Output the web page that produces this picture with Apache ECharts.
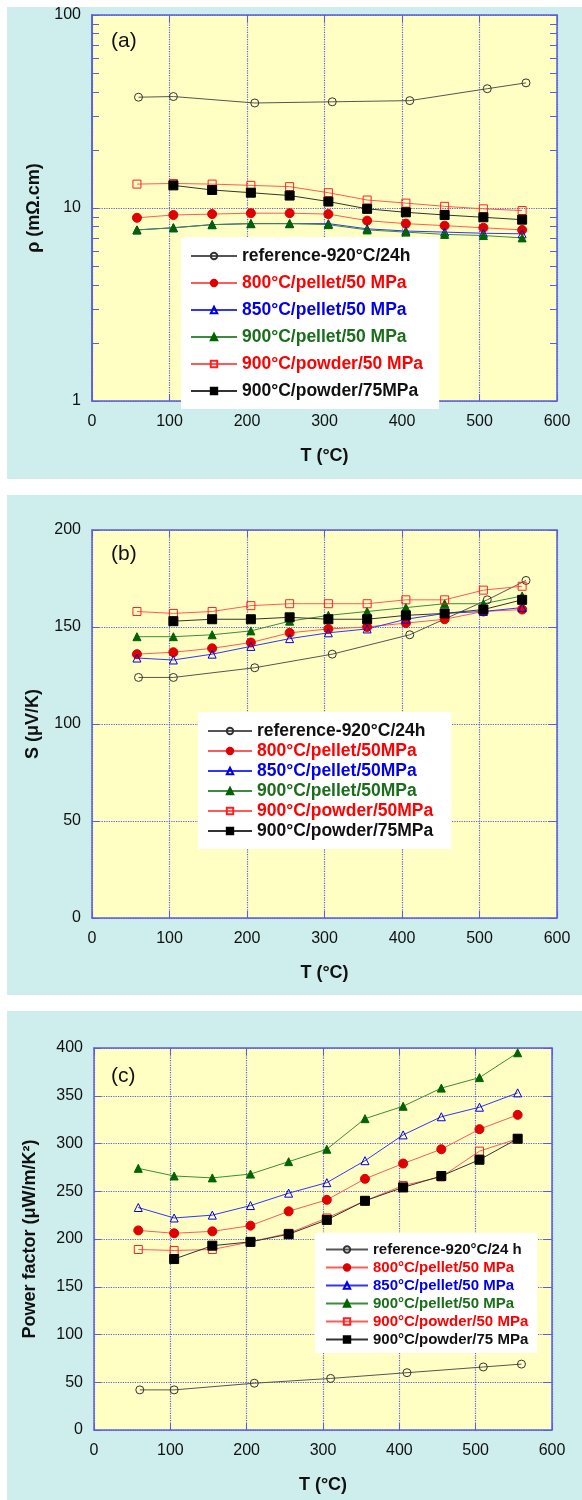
<!DOCTYPE html>
<html>
<head>
<meta charset="utf-8">
<script src="https://cdn.jsdelivr.net/npm/echarts@6/dist/echarts.min.js"></script>
<style>
  html, body { margin: 0; padding: 0; background: #ffffff; }
  #chart { width: 582px; height: 1500px; }
</style>
</head>
<body>
<div id="chart"></div>
<script>
// temperatures (°C)
const tRef = [60, 105, 210, 310, 410, 510, 560];
const tAll = [58, 105, 155, 205, 255, 305, 355, 405, 455, 505, 555];
const t75 = [105, 155, 205, 255, 305, 355, 405, 455, 505, 555];

// (a) resistivity, mOhm.cm
const rhoRef = [37.5, 37.8, 35.0, 35.5, 36.0, 41.5, 44.5];
const rho800 = [8.9, 9.2, 9.3, 9.4, 9.4, 9.3, 8.6, 8.3, 8.1, 7.9, 7.7];
const rho850 = [7.7, 7.9, 8.2, 8.3, 8.3, 8.3, 7.8, 7.6, 7.5, 7.4, 7.35];
const rho900 = [7.7, 7.9, 8.2, 8.3, 8.3, 8.2, 7.7, 7.5, 7.3, 7.2, 7.0];
const rhoPow50 = [13.3, 13.4, 13.3, 13.1, 12.9, 12.0, 11.0, 10.6, 10.2, 9.9, 9.7];
const rhoPow75 = [13.1, 12.4, 12.0, 11.6, 10.8, 9.9, 9.5, 9.2, 8.95, 8.7];

// (b) Seebeck, uV/K
const sRef = [124, 124, 129, 136, 146, 164, 174];
const s800 = [136, 137, 139, 142, 147, 149, 150, 152, 154, 158, 159];
const s850 = [134, 133, 136, 140, 144, 147, 149, 154, 157, 158, 160];
const s900 = [145, 145, 146, 148, 153, 156, 158, 160, 162, 162, 166];
const sPow50 = [158, 157, 158, 161, 162, 162, 162, 164, 164, 169, 171];
const sPow75 = [153, 154, 154, 155, 154, 154, 156, 157, 159, 164];

// (c) power factor, uW/m/K2
const pfRef = [42, 42, 49, 54, 60, 66, 69];
const pf800 = [209, 206, 208, 214, 229, 241, 263, 279, 294, 315, 330];
const pf850 = [233, 222, 225, 235, 248, 259, 282, 309, 328, 338, 353];
const pf900 = [274, 266, 264, 268, 281, 294, 326, 339, 358, 369, 395];
const pfPow50 = [189, 188, 189, 197, 206, 222, 240, 256, 265, 292, 305];
const pfPow75 = [179, 193, 197, 205, 220, 240, 254, 266, 283, 305];

// legend names (they differ a little between panels)
const namesA = ['reference-920°C/24h', '800°C/pellet/50 MPa', '850°C/pellet/50 MPa',
  '900°C/pellet/50 MPa', '900°C/powder/50 MPa', '900°C/powder/75MPa'];
const namesB = ['reference-920°C/24h', '800°C/pellet/50MPa', '850°C/pellet/50MPa',
  '900°C/pellet/50MPa', '900°C/powder/50MPa', '900°C/powder/75MPa'];
const namesC = ['reference-920°C/24 h', '800°C/pellet/50 MPa', '850°C/pellet/50 MPa',
  '900°C/pellet/50 MPa', '900°C/powder/50 MPa', '900°C/powder/75 MPa'];

const logTicks = [1, 2, 3, 4, 5, 6, 7, 8, 9, 10, 20, 30, 40, 50, 60, 70, 80, 90, 100];

const FONT = '"Liberation Sans", Arial, sans-serif';
const CYAN = '#cdeeec';
const YELLOW = '#ffffc4';
const FRAME = '#5c5ce0';

// marker / line look per series (same order as the names)
const looks = [
  { symbol: 'circle', size: 8, fill: 'rgba(0,0,0,0)', border: '#333333', line: '#555555', text: '#111111' },
  { symbol: 'circle', size: 9, fill: '#e00000', border: '#e00000', line: '#ff5a5a', text: '#ff0000' },
  { symbol: 'triangle', size: 8, fill: 'rgba(0,0,0,0)', border: '#0000dd', line: '#3434ff', text: '#0000ee' },
  { symbol: 'triangle', size: 8, fill: '#006400', border: '#006400', line: '#3c8c3c', text: '#1a6e1a' },
  { symbol: 'rect', size: 8, fill: 'rgba(0,0,0,0)', border: '#ff2020', line: '#ff5a5a', text: '#ff0000' },
  { symbol: 'rect', size: 9, fill: '#000000', border: '#000000', line: '#333333', text: '#111111' }
];

function pairs(xs, ys) {
  return ys.map((v, i) => [xs[i], v]);
}

function makeSeries(names, xsList, ysList, xIndex, yIndex) {
  return names.map((name, i) => ({
    name: name,
    type: 'line',
    xAxisIndex: xIndex,
    yAxisIndex: yIndex,
    symbol: looks[i].symbol,
    symbolSize: looks[i].size,
    showAllSymbol: true,
    animation: false,
    lineStyle: { color: looks[i].line, width: 1 },
    itemStyle: { color: looks[i].fill, borderColor: looks[i].border, borderWidth: 1 },
    emphasis: { disabled: true },
    data: pairs(xsList[i], ysList[i])
  }));
}

function xMain(grid) {
  return {
    gridIndex: grid, type: 'value', position: 'bottom', min: 0, max: 600, interval: 100,
    name: 'T (°C)', nameLocation: 'middle', nameGap: 46,
    nameTextStyle: { fontFamily: FONT, fontSize: 18, fontWeight: 'bold', color: '#111' },
    axisLine: { show: true, onZero: false, lineStyle: { color: FRAME, width: 1.5 } },
    axisTick: { show: true, inside: true, length: 7, lineStyle: { color: FRAME } },
    axisLabel: { fontFamily: FONT, fontSize: 16, color: '#111', margin: 13 },
    splitLine: { show: true, lineStyle: { color: FRAME, type: 'dotted', width: 1.2 } }
  };
}

function xTop(grid) {
  return {
    gridIndex: grid, type: 'value', position: 'top', min: 0, max: 600, interval: 100,
    axisLine: { show: true, onZero: false, lineStyle: { color: FRAME, width: 1.5 } },
    axisTick: { show: true, inside: true, length: 7, lineStyle: { color: FRAME } },
    axisLabel: { show: false },
    splitLine: { show: false }
  };
}

function yMain(grid, name, gap, min, max, interval) {
  return {
    gridIndex: grid, type: 'value', position: 'left', min: min, max: max, interval: interval,
    name: name, nameLocation: 'middle', nameGap: gap,
    nameTextStyle: { fontFamily: FONT, fontSize: 18, fontWeight: 'bold', color: '#111' },
    axisLine: { show: true, onZero: false, lineStyle: { color: FRAME, width: 1.5 } },
    axisTick: { show: true, inside: true, length: 7, lineStyle: { color: FRAME } },
    axisLabel: { fontFamily: FONT, fontSize: 16, color: '#111', margin: 11 },
    splitLine: { show: true, lineStyle: { color: FRAME, type: 'dotted', width: 1.2 } }
  };
}

function yRight(grid, min, max, interval) {
  return {
    gridIndex: grid, type: 'value', position: 'right', min: min, max: max, interval: interval,
    axisLine: { show: true, onZero: false, lineStyle: { color: FRAME, width: 1.5 } },
    axisTick: { show: true, inside: true, length: 9, lineStyle: { color: FRAME } },
    axisLabel: { show: false },
    splitLine: { show: false }
  };
}

// log axis of panel (a): labels + grid line on one axis, minor ticks on two more
function yLogMain() {
  return {
    gridIndex: 0, type: 'log', logBase: 10, position: 'left', min: 1, max: 100,
    name: 'ρ (mΩ.cm)', nameLocation: 'middle', nameGap: 49,
    nameTextStyle: { fontFamily: FONT, fontSize: 18, fontWeight: 'bold', color: '#111' },
    axisLine: { show: true, onZero: false, lineStyle: { color: FRAME, width: 1.5 } },
    axisTick: { show: false },
    axisLabel: { fontFamily: FONT, fontSize: 16, color: '#111', margin: 11 },
    splitLine: { show: true, lineStyle: { color: FRAME, type: 'dotted', width: 1.2 } }
  };
}

function yLogTicks(pos) {
  return {
    gridIndex: 0, type: 'log', logBase: 10, position: pos, min: 1, max: 100,
    axisLine: { show: true, onZero: false, lineStyle: { color: FRAME, width: 1.5 } },
    axisTick: { show: true, inside: true, length: 7, customValues: logTicks, lineStyle: { color: FRAME } },
    axisLabel: { show: false },
    splitLine: { show: false }
  };
}

function makeLegend(names, box) {
  return {
    orient: 'vertical',
    left: box.left, top: box.top,
    backgroundColor: '#ffffff',
    padding: box.padding,
    itemWidth: box.itemWidth, itemHeight: 8, itemGap: box.gap,
    selectedMode: false,
    textStyle: { fontFamily: FONT, fontSize: box.font, fontWeight: 'bold', lineHeight: box.lineHeight },
    data: names.map((n, i) => ({ name: n, textStyle: { color: looks[i].text } }))
  };
}

const chart = echarts.init(document.getElementById('chart'), null, { renderer: 'canvas' });

const option = {
  backgroundColor: '#ffffff',
  animation: false,
  graphic: [
    { type: 'rect', z: -10, silent: true, shape: { x: 7, y: 7, width: 575, height: 472 }, style: { fill: CYAN } },
    { type: 'rect', z: -10, silent: true, shape: { x: 7, y: 495, width: 575, height: 500 }, style: { fill: CYAN } },
    { type: 'rect', z: -10, silent: true, shape: { x: 7, y: 1011, width: 575, height: 489 }, style: { fill: CYAN } }
  ],
  title: [
    { text: '(a)', left: 106, top: 26, textStyle: { fontFamily: FONT, fontSize: 21, fontWeight: 'normal', color: '#111' } },
    { text: '(b)', left: 106, top: 539, textStyle: { fontFamily: FONT, fontSize: 21, fontWeight: 'normal', color: '#111' } },
    { text: '(c)', left: 106, top: 1061, textStyle: { fontFamily: FONT, fontSize: 21, fontWeight: 'normal', color: '#111' } }
  ],
  grid: [
    { left: 92, top: 15, width: 465, height: 386, show: true, backgroundColor: YELLOW, borderWidth: 0 },
    { left: 92, top: 530, width: 465, height: 388, show: true, backgroundColor: YELLOW, borderWidth: 0 },
    { left: 94, top: 1048, width: 458, height: 382, show: true, backgroundColor: YELLOW, borderWidth: 0 }
  ],
  xAxis: [xMain(0), xTop(0), xMain(1), xTop(1), xMain(2), xTop(2)],
  yAxis: [
    yLogMain(), yLogTicks('left'), yLogTicks('right'),
    yMain(1, 'S (μV/K)', 50, 0, 200, 50), yRight(1, 0, 200, 50),
    yMain(2, 'Power factor (μW/m/K²)', 55, 0, 400, 50), yRight(2, 0, 400, 50)
  ],
  legend: [
    makeLegend(namesA, { left: 181, top: 237, padding: [10, 16, 9, 9], itemWidth: 46, gap: 9, font: 17.5, lineHeight: 18 }),
    makeLegend(namesB, { left: 198, top: 712, padding: [10, 18, 9, 9], itemWidth: 44, gap: 2, font: 17.5, lineHeight: 17 }),
    makeLegend(namesC, { left: 315, top: 1233, padding: [9, 9, 6, 10], itemWidth: 42, gap: 3, font: 15, lineHeight: 15 })
  ],
  series: [].concat(
    makeSeries(namesA, [tRef, tAll, tAll, tAll, tAll, t75],
      [rhoRef, rho800, rho850, rho900, rhoPow50, rhoPow75], 0, 0),
    makeSeries(namesB, [tRef, tAll, tAll, tAll, tAll, t75],
      [sRef, s800, s850, s900, sPow50, sPow75], 2, 3),
    makeSeries(namesC, [tRef, tAll, tAll, tAll, tAll, t75],
      [pfRef, pf800, pf850, pf900, pfPow50, pfPow75], 4, 5)
  )
};

chart.setOption(option);
</script>
</body>
</html>
